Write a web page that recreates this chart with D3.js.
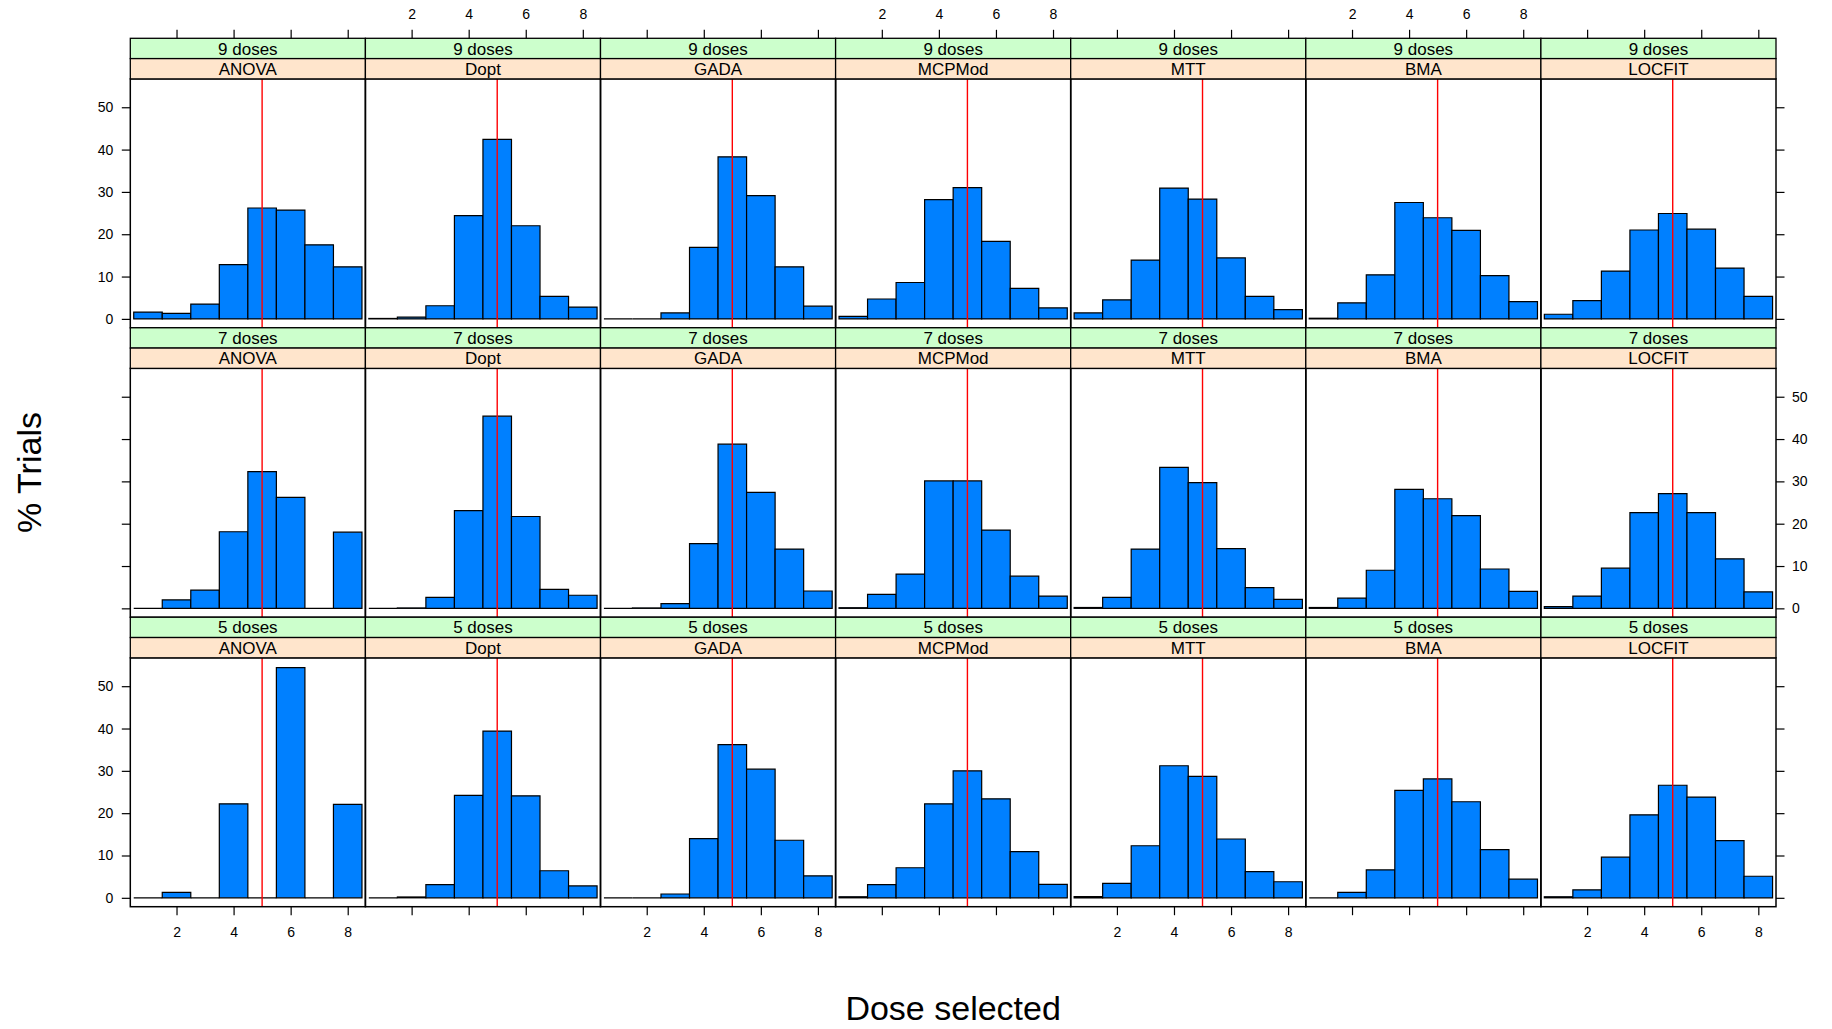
<!DOCTYPE html>
<html>
<head>
<meta charset="utf-8">
<script src="https://cdn.jsdelivr.net/npm/d3@7"></script>
<style>
  html, body { margin: 0; padding: 0; background: #fff; }
  svg { display: block; }
  text { font-family: "Liberation Sans", Arial, Helvetica, sans-serif; fill: #000; }
</style>
</head>
<body>
<svg id="chart" width="1832" height="1029"></svg>
<script>
// ---------------- data ----------------
const methods = ["ANOVA", "Dopt", "GADA", "MCPMod", "MTT", "BMA", "LOCFIT"];
const doseLevels = ["9 doses", "7 doses", "5 doses"];   // top row to bottom row
const doseBins = [1, 2, 3, 4, 5, 6, 7, 8];               // bin centres (width 1)
const xTicks = [2, 4, 6, 8];
const yTicks = [0, 10, 20, 30, 40, 50];
const targetDose = 5;

// % trials per selected dose, 9 doses
const ANOVA_9  = [1.6, 1.3, 3.5, 12.8, 26.2, 25.7, 17.5, 12.3];
const Dopt_9   = [0.1, 0.4, 3.1, 24.4, 42.4, 22.0, 5.3, 2.8];
const GADA_9   = [0, 0, 1.4, 16.9, 38.3, 29.1, 12.3, 3.0];
const MCPMod_9 = [0.6, 4.7, 8.6, 28.2, 31.0, 18.3, 7.2, 2.6];
const MTT_9    = [1.4, 4.5, 13.9, 30.9, 28.3, 14.4, 5.3, 2.2];
const BMA_9    = [0.15, 3.8, 10.4, 27.5, 23.9, 20.9, 10.2, 4.1];
const LOCFIT_9 = [1.1, 4.3, 11.3, 21.0, 24.9, 21.2, 12.0, 5.3];

// 7 doses
const ANOVA_7  = [0, 2.0, 4.3, 18.1, 32.3, 26.2, 0, 18.0];
const Dopt_7   = [0, 0.1, 2.6, 23.1, 45.4, 21.7, 4.5, 3.1];
const GADA_7   = [0, 0.1, 1.1, 15.3, 38.8, 27.4, 14.0, 4.1];
const MCPMod_7 = [0.15, 3.3, 8.1, 30.1, 30.1, 18.5, 7.6, 2.9];
const MTT_7    = [0.2, 2.6, 14.0, 33.3, 29.7, 14.1, 4.9, 2.1];
const BMA_7    = [0.2, 2.4, 9.0, 28.1, 25.9, 21.9, 9.3, 4.0];
const LOCFIT_7 = [0.4, 2.9, 9.5, 22.6, 27.1, 22.6, 11.7, 3.9];

// 5 doses
const ANOVA_5  = [0, 1.3, 0, 22.2, 0, 54.4, 0, 22.1];
const Dopt_5   = [0, 0.2, 3.1, 24.2, 39.4, 24.1, 6.4, 2.8];
const GADA_5   = [0, 0, 0.9, 14.0, 36.2, 30.4, 13.6, 5.2];
const MCPMod_5 = [0.25, 3.1, 7.1, 22.2, 30.0, 23.4, 10.9, 3.2];
const MTT_5    = [0.3, 3.4, 12.3, 31.2, 28.7, 13.9, 6.2, 3.8];
const BMA_5    = [0, 1.3, 6.6, 25.4, 28.1, 22.7, 11.4, 4.4];
const LOCFIT_5 = [0.25, 1.9, 9.6, 19.6, 26.6, 23.8, 13.5, 5.1];

const rowsData = [
  [ANOVA_9, Dopt_9, GADA_9, MCPMod_9, MTT_9, BMA_9, LOCFIT_9],
  [ANOVA_7, Dopt_7, GADA_7, MCPMod_7, MTT_7, BMA_7, LOCFIT_7],
  [ANOVA_5, Dopt_5, GADA_5, MCPMod_5, MTT_5, BMA_5, LOCFIT_5]
];

// ---------------- layout ----------------
const layout = {
  left: 130.3, colW: 235.1, top: 38.3, rowH: 289.47, stripH: 20.3,
  xDomain: [0.38, 8.62], yDomain: [-2.1, 56.7], tick: 8.5
};
const colors = { bar: "#0080ff", stripOuter: "#ccffcc", stripInner: "#ffe5cc", ref: "#ff0000" };

const svg = d3.select("#chart");

function styleAxis(g, showLabels) {
  g.select(".domain").remove();
  g.selectAll(".tick line").attr("stroke", "#000").attr("stroke-width", 1.2);
  g.selectAll(".tick text").attr("font-size", 14).style("font-family", "Liberation Sans, Arial, sans-serif")
    .attr("fill", "#000");
  if (!showLabels) g.selectAll(".tick text").remove();
}

doseLevels.forEach((dl, r) => {
  methods.forEach((m, c) => {
    const x0 = layout.left + c * layout.colW;
    const rowTop = layout.top + r * layout.rowH;
    const pTop = rowTop + 2 * layout.stripH;
    const pBot = rowTop + layout.rowH;
    const x = d3.scaleLinear().domain(layout.xDomain).range([x0, x0 + layout.colW]);
    const y = d3.scaleLinear().domain(layout.yDomain).range([pBot, pTop]);
    const vals = rowsData[r][c];
    const g = svg.append("g");

    // bars
    g.selectAll("path.bar").data(doseBins.map((d, i) => ({ d, v: vals[i] })))
      .join("path")
      .attr("class", "bar")
      .attr("d", b => {
        const xa = x(b.d - 0.5), xb = x(b.d + 0.5), ya = y(0), yb = y(b.v);
        return `M${xa},${ya}V${yb}H${xb}V${ya}Z`;
      })
      .attr("fill", colors.bar)
      .attr("stroke", "#000")
      .attr("stroke-width", 1.2)
      .attr("stroke-linejoin", "miter");

    // reference line
    g.append("line")
      .attr("x1", x(targetDose)).attr("x2", x(targetDose))
      .attr("y1", pTop).attr("y2", pBot)
      .attr("stroke", colors.ref).attr("stroke-width", 1.4);

    // panel border
    g.append("rect")
      .attr("x", x0).attr("y", pTop).attr("width", layout.colW).attr("height", pBot - pTop)
      .attr("fill", "none").attr("stroke", "#000").attr("stroke-width", 1.5);

    // strips
    g.append("rect")
      .attr("x", x0).attr("y", rowTop).attr("width", layout.colW).attr("height", layout.stripH)
      .attr("fill", colors.stripOuter).attr("stroke", "#000").attr("stroke-width", 1.3);
    g.append("rect")
      .attr("x", x0).attr("y", rowTop + layout.stripH).attr("width", layout.colW).attr("height", layout.stripH)
      .attr("fill", colors.stripInner).attr("stroke", "#000").attr("stroke-width", 1.3);
    g.append("text")
      .attr("x", x0 + layout.colW / 2).attr("y", rowTop + layout.stripH / 2 + 6.1)
      .attr("text-anchor", "middle").attr("font-size", 17).text(dl);
    g.append("text")
      .attr("x", x0 + layout.colW / 2).attr("y", rowTop + 1.5 * layout.stripH + 6.1)
      .attr("text-anchor", "middle").attr("font-size", 17).text(m);

    // axes
    if (r === 0) {
      const ax = svg.append("g").attr("transform", `translate(0,${rowTop})`)
        .call(d3.axisTop(x).tickValues(xTicks).tickSize(layout.tick).tickPadding(10.5).tickFormat(d3.format("d")));
      styleAxis(ax, c % 2 === 1);
    }
    if (r === doseLevels.length - 1) {
      const ax = svg.append("g").attr("transform", `translate(0,${pBot})`)
        .call(d3.axisBottom(x).tickValues(xTicks).tickSize(layout.tick).tickPadding(11.5).tickFormat(d3.format("d")));
      styleAxis(ax, c % 2 === 0);
    }
    if (c === 0) {
      const ax = svg.append("g").attr("transform", `translate(${x0},0)`)
        .call(d3.axisLeft(y).tickValues(yTicks).tickSize(layout.tick).tickPadding(8.5).tickFormat(d3.format("d")));
      styleAxis(ax, r % 2 === 0);
    }
    if (c === methods.length - 1) {
      const ax = svg.append("g").attr("transform", `translate(${x0 + layout.colW},0)`)
        .call(d3.axisRight(y).tickValues(yTicks).tickSize(layout.tick).tickPadding(7.5).tickFormat(d3.format("d")));
      styleAxis(ax, r % 2 === 1);
    }
  });
});

// axis titles
const midX = layout.left + layout.colW * methods.length / 2;
const midY = layout.top + layout.rowH * doseLevels.length / 2;
svg.append("text")
  .attr("x", midX).attr("y", 1020)
  .attr("text-anchor", "middle").attr("font-size", 34).text("Dose selected");
svg.append("text")
  .attr("transform", `translate(41,${midY}) rotate(-90)`)
  .attr("text-anchor", "middle").attr("font-size", 34).text("% Trials");
</script>
</body>
</html>
